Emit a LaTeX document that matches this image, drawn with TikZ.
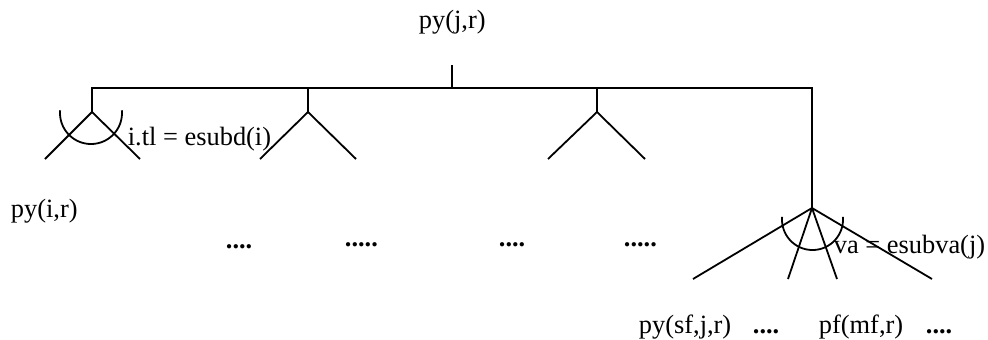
\documentclass[tikz,border=0pt]{standalone}
\usepackage{fontspec}
\setmainfont{Liberation Serif}
\begin{document}
\begin{tikzpicture}[x=1pt,y=-1pt, line width=1.8pt,
  lbl/.style={inner sep=0pt, anchor=base west, font=\fontsize{26.4}{30}\selectfont},
  dotlbl/.style={inner sep=0pt, anchor=base west, font=\fontsize{26.4}{30}\selectfont\bfseries},
  edge/.style={draw, line width=1.8pt, line cap=butt},
  sweep/.style={draw, line width=1.8pt}]
\useasboundingbox (0,0) rectangle (988,340);
% junction coordinates
\coordinate (tk) at (452,65);
\coordinate (tb) at (452,88);
\coordinate (bL) at (92,88);
\coordinate (bR) at (812,88);
\coordinate (b2) at (308,88);
\coordinate (b3) at (597,88);
\coordinate (a1) at (92,112);
\coordinate (l1a) at (45,159);
\coordinate (l1b) at (140,159);
\coordinate (a2) at (308,112);
\coordinate (l2a) at (260,159);
\coordinate (l2b) at (356,159);
\coordinate (a3) at (597,112);
\coordinate (l3a) at (548,159);
\coordinate (l3b) at (645,159);
\coordinate (a4) at (812,208);
\coordinate (l4a) at (693,279);
\coordinate (l4b) at (788,279);
\coordinate (l4c) at (837,279);
\coordinate (l4d) at (932,279);
% tree lines
\draw[edge] (tk) -- (tb);
\draw[edge] (a1) -- (bL) -- (bR) -- (a4);
\draw[edge] (b2) -- (a2);
\draw[edge] (b3) -- (a3);
\draw[edge] (l1a) -- (a1) -- (l1b);
\draw[edge] (l2a) -- (a2) -- (l2b);
\draw[edge] (l3a) -- (a3) -- (l3b);
\draw[edge] (l4a) -- (a4) -- (l4d);
\draw[edge] (l4b) -- (a4) -- (l4c);
% arcs
\draw[sweep] plot[domain=-5:185, samples=60] ({91+31*cos(\x)}, {113+31*sin(\x)});
\draw[sweep] plot[domain=-5:185, samples=60] ({812.5+30.5*cos(\x)}, {219.5+30.5*sin(\x)});
% labels
\node[lbl] (root) at (418,28) {py(j,r)};
\node[lbl] (pyi) at (10,217) {py(i,r)};
\node[lbl] (itl) at (127,145) {i.tl = esubd(i)};
\node[lbl] (va) at (833,253) {va = esubva(j)};
\node[dotlbl] (d1) at (225,248) {....};
\node[dotlbl] (d2) at (344,246) {.....};
\node[dotlbl] (d3) at (498,246) {....};
\node[dotlbl] (d4) at (623,246) {.....};
\node[lbl] (pysf) at (638,333) {py(sf,j,r)};
\node[dotlbl] (d5) at (752,333) {....};
\node[lbl] (pfmf) at (818,333) {pf(mf,r)};
\node[dotlbl] (d6) at (925,333) {....};
\end{tikzpicture}
\end{document}
